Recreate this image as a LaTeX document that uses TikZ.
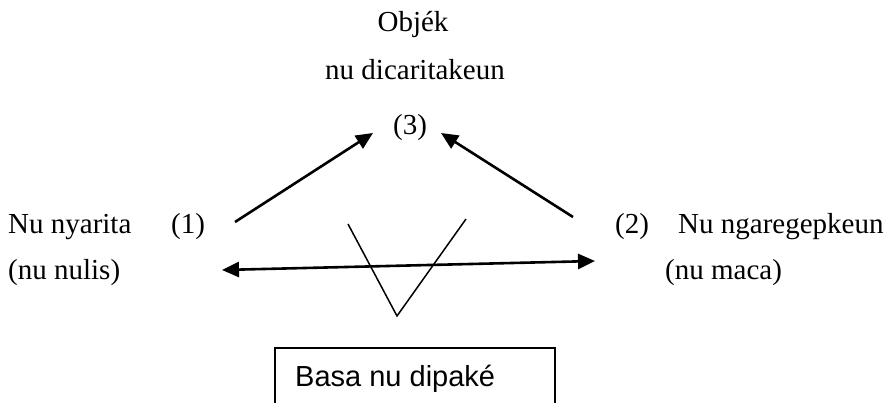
\documentclass[tikz,border=0pt]{standalone}
\usepackage{fontspec}
\setmainfont{Liberation Serif}
\newfontfamily\boxfont{Liberation Sans}
\usetikzlibrary{arrows.meta}
\begin{document}
\begin{tikzpicture}[x=1pt,y=-1pt,
  lbl/.style={inner sep=0pt,anchor=base west,font=\fontsize{29}{34}\selectfont},
  clbl/.style={inner sep=0pt,anchor=base,font=\fontsize{29}{34}\selectfont},
  thickarrow/.style={line width=2.6pt,-{Triangle[length=17pt,width=15pt]}},
  dblarrow/.style={line width=2.6pt,{Triangle[length=17pt,width=15pt]}-{Triangle[length=17pt,width=15pt]}},
  vline/.style={line width=1.5pt},
  boxline/.style={line width=1.8pt}]
\useasboundingbox (0,0) rectangle (888,403);
% texts
\node[clbl] (obj) at (413,32) {Objék};
\node[clbl] (dic) at (415,80) {nu dicaritakeun};
\node[clbl] (three) at (410,135) {(3)};
\node[lbl] (nyar) at (8,234) {Nu nyarita};
\node[lbl] (one) at (171,234) {(1)};
\node[lbl] (nulis) at (8,279) {(nu nulis)};
\node[lbl] (two) at (615,234) {(2)};
\node[lbl] (ngar) at (678,234) {Nu ngaregepkeun};
\node[lbl] (maca) at (665,279) {(nu maca)};
% arrow ends
\coordinate (a1s) at (235,222);
\coordinate (a1e) at (373,133);
\coordinate (a2s) at (573,217);
\coordinate (a2e) at (441,133);
\coordinate (hl) at (222,270);
\coordinate (hr) at (595,261);
\coordinate (vl) at (348,224);
\coordinate (vr) at (466,219);
\coordinate (vb) at (397,316);
\draw[thickarrow] (a1s) -- (a1e);
\draw[thickarrow] (a2s) -- (a2e);
\draw[dblarrow] (hl) -- (hr);
\draw[vline] (vl) -- (vb) -- (vr);
% box
\coordinate (bl) at (275,410);
\coordinate (tl) at (275,348);
\coordinate (tr) at (555,348);
\coordinate (br) at (555,410);
\draw[boxline] (bl) -- (tl) -- (tr) -- (br);
\node[lbl,font=\boxfont\fontsize{29}{34}\selectfont] (basa) at (295,386) {Basa nu dipaké};
\end{tikzpicture}
\end{document}
